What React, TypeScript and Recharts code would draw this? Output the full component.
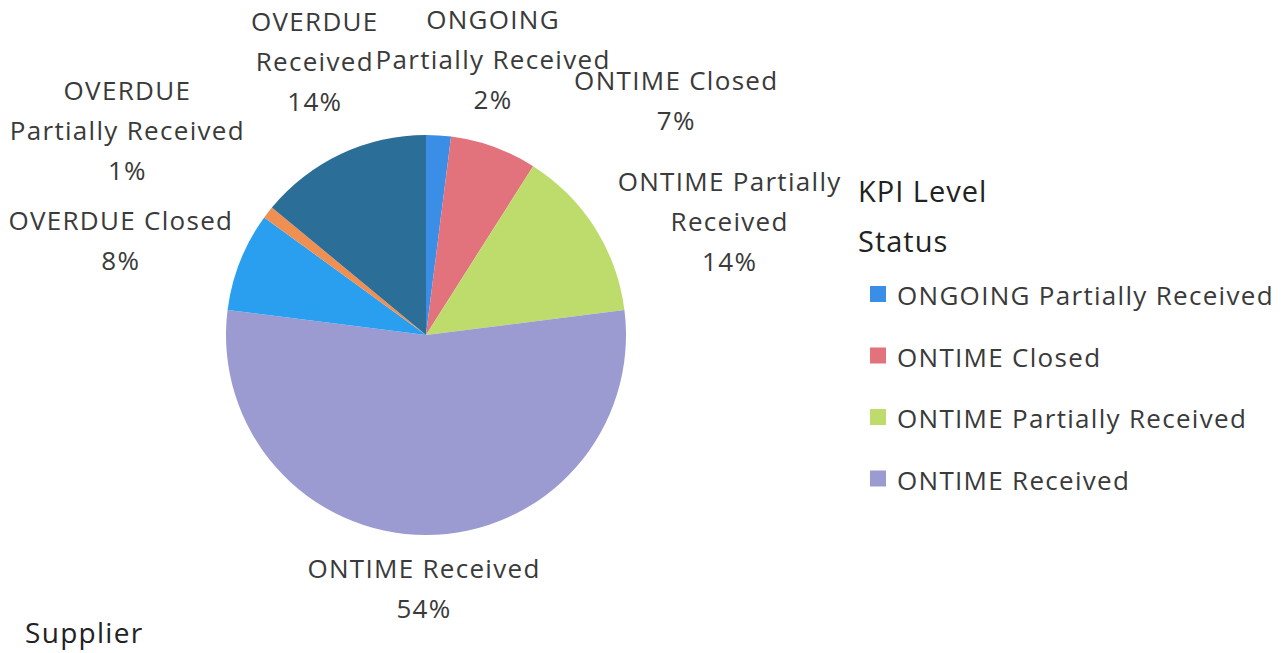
import React from "react";
import { PieChart, Pie, Cell, Legend } from "recharts";

// KPI level status split, clockwise from 12 o'clock
const statuses = [
  "ONGOING Partially Received",
  "ONTIME Closed",
  "ONTIME Partially Received",
  "ONTIME Received",
  "OVERDUE Closed",
  "OVERDUE Partially Received",
  "OVERDUE Received",
];
const shares = [2, 7, 14, 54, 8, 1, 14];
const colors = ["#3b8ee6", "#e2727b", "#bddc6c", "#9b9bd2", "#2a9ff0", "#f08f52", "#2b6e98"];

// how each data label wraps, as in the original
const labelLines = [
  ["ONGOING", "Partially Received"],
  ["ONTIME Closed"],
  ["ONTIME Partially", "Received"],
  ["ONTIME Received"],
  ["OVERDUE Closed"],
  ["OVERDUE", "Partially Received"],
  ["OVERDUE", "Received"],
];
// best-fit nudges from the anchor point outside each slice
const labelShift = [
  [52, -66],
  [169, -19],
  [101, -15],
  [-2, 3],
  [-82, -17],
  [-109, -88],
  [-9, -87],
];

const legendCount = 4; // the legend box only has room for four entries

const data = statuses.map((name, i) => ({ name, value: shares[i] }));

const FONT = "'Open Sans', Lato, sans-serif";
const TEXT = "#3a3a3a";
const SPACING = 1.3;
const RADIAN = Math.PI / 180;

function renderLabel(props: any) {
  const { cx, cy, midAngle, outerRadius, index, percent } = props;
  const r = outerRadius + 40;
  const ax = cx + r * Math.cos(-midAngle * RADIAN);
  const ay = cy + r * Math.sin(-midAngle * RADIAN);
  const [dx, dy] = labelShift[index];
  const lines = [...labelLines[index], `${Math.round(percent * 100)}%`];
  return (
    <text
      x={ax + dx}
      y={ay + dy}
      textAnchor="middle"
      fill={TEXT}
      fontSize={26}
      fontFamily={FONT}
      letterSpacing={SPACING}
    >
      {lines.map((l, i) => (
        <tspan key={i} x={ax + dx} dy={i === 0 ? 0 : 40}>
          {l}
        </tspan>
      ))}
    </text>
  );
}

function LegendBox({ payload }: any) {
  const items = (payload || []).slice(0, legendCount);
  return (
    <svg width={420} height={340} style={{ overflow: "visible" }}>
      <text x={0} y={32} fontSize={29} fontFamily={FONT} fill="#222" letterSpacing={1}>KPI Level</text>
      <text x={0} y={82} fontSize={29} fontFamily={FONT} fill="#222" letterSpacing={1}>Status</text>
      {items.map((p: any, i: number) => (
        <g key={p.value}>
          <rect x={12} y={116 + i * 61.5} width={16} height={16} fill={p.color} />
          <text
            x={39}
            y={135 + i * 61.5}
            fontSize={26}
            fontFamily={FONT}
            fill={TEXT}
            letterSpacing={SPACING}
          >
            {p.value}
          </text>
        </g>
      ))}
    </svg>
  );
}

export default function App() {
  return (
    <div style={{ position: "relative", width: 1284, height: 653, background: "#fff" }}>
      <style>{"body{margin:0}"}</style>
      <PieChart width={1284} height={653} margin={{ top: 0, right: 0, bottom: 0, left: 0 }}>
        <Pie
          data={data}
          dataKey="value"
          nameKey="name"
          cx={426}
          cy={335}
          outerRadius={200}
          startAngle={90}
          endAngle={-270}
          stroke="none"
          label={renderLabel}
          labelLine={false}
          isAnimationActive={false}
        >
          {data.map((d, i) => (
            <Cell key={d.name} fill={colors[i]} />
          ))}
        </Pie>
        <Legend
          layout="vertical"
          align="right"
          verticalAlign="top"
          content={<LegendBox />}
          wrapperStyle={{ left: 858, top: 170, width: 426 }}
        />
      </PieChart>
      <div
        style={{
          position: "absolute",
          left: 25,
          top: 614,
          fontFamily: FONT,
          fontSize: 28,
          letterSpacing: SPACING,
          color: "#222",
          lineHeight: "36px",
        }}
      >
        Supplier
      </div>
    </div>
  );
}
